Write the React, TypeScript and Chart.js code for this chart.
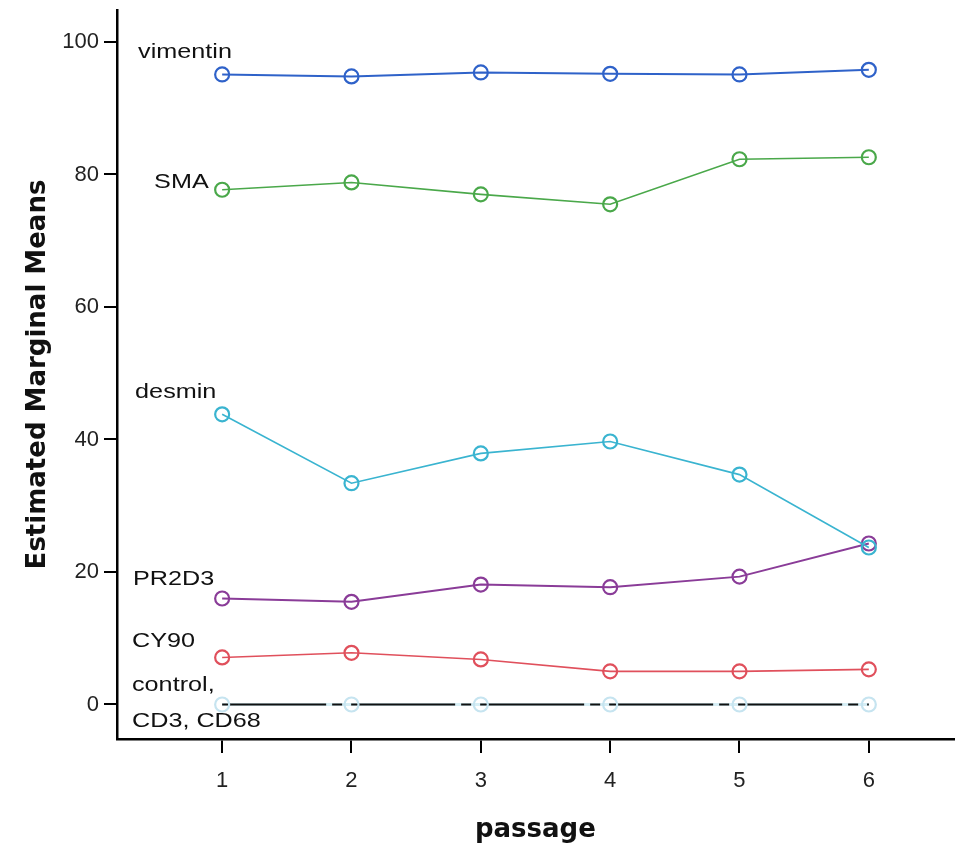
import React, { useEffect, useRef } from "react";
import { Chart, registerables } from "chart.js";

Chart.register(...registerables);

const passages = [1, 2, 3, 4, 5, 6];
const yTickValues = [0, 20, 40, 60, 80, 100];

const vimentin = [95.1, 94.8, 95.4, 95.2, 95.1, 95.8];
const sma = [77.7, 78.8, 77.0, 75.5, 82.3, 82.6];
const desmin = [43.8, 33.4, 37.9, 39.7, 34.7, 23.7];
const pr2d3 = [16.0, 15.5, 18.1, 17.7, 19.3, 24.3];
const cy90 = [7.1, 7.8, 6.8, 5.0, 5.0, 5.3];
const control = [0, 0, 0, 0, 0, 0];
const cd3 = [0, 0, 0, 0, 0, 0];
const cd68 = [0, 0, 0, 0, 0, 0];

const seriesLabelTexts = ["vimentin", "SMA", "desmin", "PR2D3", "CY90", "control,", "CD3, CD68"];
// label anchor (data units): x, baseline y
const seriesLabelX = [0.35, 0.474, 0.327, 0.311, 0.303, 0.303, 0.303];
const seriesLabelY = [97.6, 78.0, 46.3, 18.0, 8.7, 2.0, -3.4];

const toPoints = (vals: number[]) => passages.map((p, i) => ({ x: p, y: vals[i] }));

const labelPlugin = {
  id: "seriesLabels",
  afterDatasetsDraw(chart: any) {
    const ctx = chart.ctx;
    const xs = chart.scales.x;
    const ys = chart.scales.y;
    ctx.save();
    ctx.fillStyle = "#111";
    ctx.font = "21px 'Liberation Sans', Arial, sans-serif";
    ctx.textBaseline = "alphabetic";
    ctx.textAlign = "left";
    seriesLabelTexts.forEach((t, i) => {
      const px = xs.getPixelForValue(seriesLabelX[i]);
      const py = ys.getPixelForValue(seriesLabelY[i]);
      ctx.save();
      ctx.translate(px, py);
      ctx.scale(1.2, 1);
      ctx.fillText(t, 0, 0);
      ctx.restore();
    });
    ctx.restore();
  },
};

const lineDs = (label: string, vals: number[], color: string, extra: any = {}) => ({
  label,
  data: toPoints(vals),
  borderColor: color,
  backgroundColor: "rgba(0,0,0,0)",
  borderWidth: 1.6,
  pointRadius: 7,
  pointBorderWidth: 2.2,
  pointBorderColor: color,
  pointBackgroundColor: "rgba(0,0,0,0)",
  tension: 0,
  order: 0,
  ...extra,
});

export default function App() {
  const ref = useRef<HTMLCanvasElement | null>(null);
  useEffect(() => {
    if (!ref.current) return;
    const chart = new Chart(ref.current, {
      type: "line",
      data: {
        datasets: [
          lineDs("vimentin", vimentin, "#2f62c9", { borderWidth: 2 }),
          lineDs("SMA", sma, "#4aa84a"),
          lineDs("desmin", desmin, "#3ab4d0"),
          lineDs("PR2D3", pr2d3, "#8a3c98", { borderWidth: 2 }),
          lineDs("CY90", cy90, "#e0505c"),
          lineDs("control", control, "#cfe8f2", { order: 1, borderWidth: 0, showLine: false, pointBorderColor: "#c6e4f0" }),
          lineDs("CD3", cd3, "#111111", { order: 2, borderDash: [104, 6, 10, 9], pointRadius: 0, borderWidth: 1.8 }),
          lineDs("CD68", cd68, "#d6eef5", { order: 3, pointRadius: 0, borderWidth: 3 }),
        ],
      },
      options: {
        responsive: false,
        animation: false,
        layout: { padding: { left: 0, top: 10, right: 0, bottom: 0 } },
        plugins: { legend: { display: false }, tooltip: { enabled: false } },
        scales: {
          x: {
            type: "linear",
            min: 0.187,
            max: 6.657,
            afterBuildTicks: (s: any) => {
              s.ticks = passages.map((v) => ({ value: v }));
            },
            afterFit: (s: any) => {
              s.height = 107;
              s.paddingLeft = 0;
              s.paddingRight = 0;
            },
            border: { display: true, color: "#000", width: 2.5 },
            grid: { drawOnChartArea: false, drawTicks: true, tickLength: 14, color: "#000", lineWidth: 2 },
            ticks: {
              padding: 15,
              color: "#222",
              font: { family: "'Liberation Sans', Arial, sans-serif", size: 22 },
              callback: (v: any) => String(v),
            },
            title: {
              display: true,
              text: "passage",
              color: "#111",
              font: { family: "'DejaVu Sans', sans-serif", size: 26, weight: "bold" },
              padding: { top: 5, bottom: 0 },
            },
          },
          y: {
            type: "linear",
            min: -5.21,
            max: 104.83,
            afterBuildTicks: (s: any) => {
              s.ticks = yTickValues.map((v) => ({ value: v }));
            },
            afterFit: (s: any) => {
              s.width = 117;
              s.paddingTop = 0;
              s.paddingBottom = 0;
            },
            border: { display: true, color: "#000", width: 2.5 },
            grid: { drawOnChartArea: false, drawTicks: true, tickLength: 13, color: "#000", lineWidth: 2 },
            ticks: {
              padding: 5,
              color: "#222",
              font: { family: "'Liberation Sans', Arial, sans-serif", size: 22 },
              callback: (v: any) => String(v),
            },
            title: {
              display: true,
              text: "Estimated Marginal Means",
              color: "#111",
              font: { family: "'DejaVu Sans', sans-serif", size: 26, weight: "bold" },
              padding: { top: 23, bottom: 0 },
            },
          },
        },
      },
      plugins: [labelPlugin],
    } as any);
    return () => chart.destroy();
  }, []);
  return (
    <div style={{ position: "absolute", left: 0, top: 0, width: 963, height: 846 }}>
      <canvas ref={ref} width={963} height={846} style={{ display: "block", width: 963, height: 846 }} />
    </div>
  );
}
